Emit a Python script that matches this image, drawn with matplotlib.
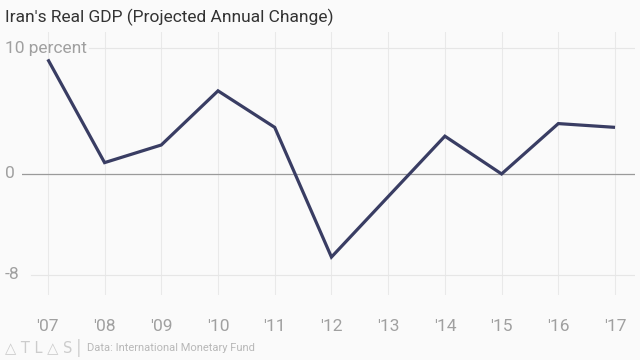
import matplotlib.pyplot as plt

# data
years = [2007, 2008, 2009, 2010, 2011, 2012, 2013, 2014, 2015, 2016, 2017]
year_labels = ["'07", "'08", "'09", "'10", "'11", "'12", "'13", "'14", "'15", "'16", "'17"]
gdp_change = [9.1, 0.9, 2.3, 6.6, 3.7, -6.6, -1.8, 3.0, 0.0, 4.0, 3.7]
y_ticks = [10, 0, -8]
y_labels = ['10 percent', '0', '-8']

bg = '#fafafa'
fig = plt.figure(figsize=(6.4, 3.6), dpi=100, facecolor=bg)
ax = fig.add_axes([0.034, 0.181, 0.958, 0.730], facecolor=bg)

ax.set_xlim(2006.54, 2017.35)
ax.set_ylim(-9.6, 11.27)

# grid
for x in years:
    ax.axvline(x, color='#e9e9e9', lw=0.8, zorder=0)
for y in y_ticks:
    if y == 0:
        ax.axhline(y, color='#9a9a9a', lw=0.9, zorder=1)
    else:
        ax.axhline(y, color='#e6e6e6', lw=0.8, zorder=0,
                   xmin=0.11 if y == 10 else 0.015)

ax.plot(years, gdp_change, color='#393d63', lw=2.3, zorder=3,
        solid_joinstyle='miter', solid_capstyle='butt')

for s in ax.spines.values():
    s.set_visible(False)
ax.set_xticks([])
ax.set_yticks([])

# tick labels as text so they can sit inside the figure margins
lab_font = dict(family='Roboto', color='#a0a0a0', fontsize=12.5)
for y, lab in zip(y_ticks, y_labels):
    ax.text(-0.028, y, lab, transform=ax.get_yaxis_transform(),
            ha='left', va='center', **lab_font)
for x, lab in zip(years, year_labels):
    ax.text(x, -0.12, lab, transform=ax.get_xaxis_transform(),
            ha='center', va='center', **lab_font)

fig.text(0.008, 0.952, "Iran's Real GDP (Projected Annual Change)",
         family='Roboto', fontsize=12.5, color='#333333', ha='left', va='center')

fig.text(0.008, 0.033, '\u25b3 T L \u25b3 S', family=['DejaVu Sans'], fontsize=10.5,
         color='#cccccc', ha='left', va='center')
fig.text(0.118, 0.033, '|', family='DejaVu Sans', fontsize=12,
         color='#d0d0d0', ha='left', va='center')
fig.text(0.136, 0.033, 'Data: International Monetary Fund', family='Roboto',
         fontsize=8, color='#b8b8b8', ha='left', va='center')

fig.savefig('out.png', dpi=100, facecolor=bg)
